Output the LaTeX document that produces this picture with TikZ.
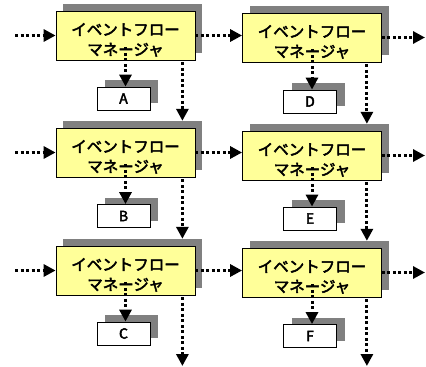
\documentclass[tikz,border=0pt]{standalone}
\usepackage{fontspec}
\newfontfamily\jp{Noto Sans CJK JP}[FakeBold=3]
\usetikzlibrary{arrows.meta}
\definecolor{mgrfill}{HTML}{FFFF99}
\definecolor{shadowgray}{HTML}{808080}
% tall strut on the first line lowers the two-line label inside its box
\newcommand{\mgrtext}{\rule{0pt}{21pt}イベントフロー\\マネージャ}
\begin{document}
\begin{tikzpicture}[x=1pt,y=-1pt,
  mgr/.style={draw=black, line width=0.8pt, fill=mgrfill, minimum width=139pt,
    minimum height=49pt, inner sep=0pt, align=center,
    font=\jp\fontsize{15.5}{20}\selectfont},
  mgrshadow/.style={fill=shadowgray, minimum width=139pt, minimum height=49pt, inner sep=0pt},
  outbox/.style={draw=black, line width=0.8pt, fill=white, minimum width=53pt,
    minimum height=23pt, inner sep=0pt, font=\jp\fontsize{14}{14}\selectfont},
  outshadow/.style={fill=shadowgray, minimum width=53pt, minimum height=23pt, inner sep=0pt},
  flow/.style={line width=3pt, dash pattern=on 3pt off 2.5pt,
    -{Triangle[length=12pt,width=12pt]}},
]
\useasboundingbox (0,0) rectangle (426,367);

% shadows
\node[mgrshadow] (L1s) at (132.5,28.5) {};
\node[mgrshadow] (L2s) at (132.5,145.5) {};
\node[mgrshadow] (L3s) at (132.5,263.5) {};
\node[mgrshadow] (R1s) at (319,30.5) {};
\node[mgrshadow] (R2s) at (319,148.5) {};
\node[mgrshadow] (R3s) at (319,265.5) {};
\node[outshadow] (As) at (131.5,91.5) {};
\node[outshadow] (Bs) at (131.5,209) {};
\node[outshadow] (Cs) at (131.5,326.5) {};
\node[outshadow] (Ds) at (318,94.5) {};
\node[outshadow] (Es) at (318,211.5) {};
\node[outshadow] (Fs) at (318,329) {};

% event flow managers
\node[mgr] (L1) at (125.5,35.5) {\mgrtext};
\node[mgr] (L2) at (125.5,152.5) {\mgrtext};
\node[mgr] (L3) at (125.5,270.5) {\mgrtext};
\node[mgr] (R1) at (312,37.5) {\mgrtext};
\node[mgr] (R2) at (312,155.5) {\mgrtext};
\node[mgr] (R3) at (312,272.5) {\mgrtext};

% outputs
\node[outbox] (A) at (123.5,98.5) {A};
\node[outbox] (B) at (123.5,216) {B};
\node[outbox] (C) at (123.5,333.5) {C};
\node[outbox] (D) at (310,101.5) {D};
\node[outbox] (E) at (310,218.5) {E};
\node[outbox] (F) at (310,336) {F};

% free ends
\coordinate (in1) at (15,35.5);
\coordinate (in2) at (15,152.5);
\coordinate (in3) at (15,270.5);
\coordinate (out1) at (425,37.5);
\coordinate (out2) at (425,155.5);
\coordinate (out3) at (425,272.5);
\coordinate (Lend) at (182,366);
\coordinate (Rend) at (367,366);

% horizontal flow
\foreach \r in {1,2,3}{
  \draw[flow] (in\r) -- (L\r.west);
  \draw[flow] (L\r.east) -- (L\r.east -| R\r.west);
  \draw[flow] (R\r.east) -- (out\r);
}

% manager to output
\foreach \m/\o in {L1/A,L2/B,L3/C,R1/D,R2/E,R3/F}{
  \coordinate (\m o) at ([yshift=13pt]\m.south);
  \draw[flow] (\m o) -- (\m o |- \o.north);
}

% vertical flow
\foreach \m in {L1,L2,L3}{
  \coordinate (\m d) at ([xshift=-13pt,yshift=-2pt]\m.south east);
}
\foreach \m in {R1,R2,R3}{
  \coordinate (\m d) at ([xshift=-15pt,yshift=-2pt]\m.south east);
}
\draw[flow] (L1d) -- (L1d |- L2s.north);
\draw[flow] (L2d) -- (L2d |- L3s.north);
\draw[flow] (L3d) -- (L3d |- Lend);
\draw[flow] (R1d) -- (R1d |- R2s.north);
\draw[flow] (R2d) -- (R2d |- R3s.north);
\draw[flow] (R3d) -- (R3d |- Rend);
\end{tikzpicture}
\end{document}
